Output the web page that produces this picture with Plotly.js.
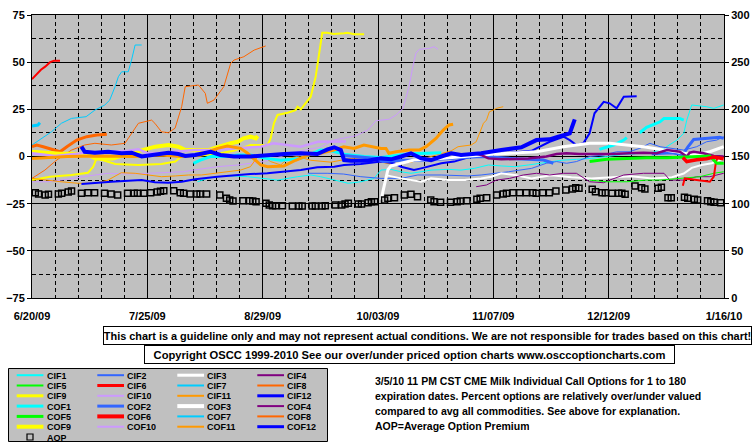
<!DOCTYPE html>
<html><head><meta charset="utf-8">
<script src="https://cdn.plot.ly/plotly-3.0.1.min.js"></script>
<style>html,body{margin:0;padding:0;background:#fff}#chart{width:755px;height:446px}</style>
</head><body><div id="chart"></div>
<script>
// ---- data: day offsets from 6/20/09 and values (percent, left axis); null = gap ----
const START_DATE = '2009-06-20';
const X_TICK_LABELS = ['6/20/09','7/25/09','8/29/09','10/03/09','11/07/09','12/12/09','1/16/10'];

const CIF1_days = [50.2,53.3,56.3,61.2,65.4,69.4,74.6,80.6,84.6,87.6,91.6,95.9,99.8,103.8,105.9,108.9,112.0,115.0,118.1,121.1,126.3,130.2,134.2,138.5,142.4,146.5,150.6,156.1,160.7,165.2,169.8,174.4,179.0,183.5,188.1,191.8,195.7,197.8,198.7,200.2,204.7,206.9,208.7,209.9];
const CIF1_vals = [-13.4,-11.6,-10.7,-10.3,-10.7,-11.6,-12.5,-10.7,-9.8,-10.7,-12.5,-14.2,-13.4,-11.6,-7.2,-6.8,-8.1,-8.9,-8.1,-7.2,-6.8,-7.2,-6.3,-4.5,-5,-5.4,-4.5,-3,-2,-1.5,-1,0,1,1.5,2,4.3,8.7,12.3,19.3,27.3,26.4,25.5,26.4,27.3];
const CIF2_days = [83.7,89.8,94.6,99.8,105.9,112.0,117.1,124.2,132.3,136.3,144.6,151.6,156.1,159.2,162.2,165.2,169.2,173.5,177.4,181.2,184.4,187.5,190.6,193.6,197.8,201.7,204.7,207.8,209.9];
const CIF2_vals = [-8.9,-8.9,-9.3,-10.7,-11.6,-11.6,-9.8,-9.8,-10.3,-9.8,-8.1,-6.3,-3.6,-2.7,-3.6,-2.7,0,0.8,2.5,2.5,4.3,7,5.2,4.3,3.4,5.2,7.8,8.7,10.5];
const CIF3_days = [107.7,112.0,118.1,121.1,126.3,131.2,136.3,139.4,142.4,146.5,151.6,157.6,163.7,169.8,175.9,181.9,188.1,194.2,197.8,200.2,203.2,206.3,209.9];
const CIF3_vals = [-10,-11.6,-13.4,-11.6,-12.5,-12.5,-11.6,-10.7,-8.9,-9.8,-11.6,-10,-11,-11.6,-11,-10.5,-11.6,-11,-9,-6,-4.5,-3.6,-1];
const CIF4_days = [134.8,137.9,140.9,144.9,149.1,153.1,157.1,161.3,165.2,169.2,173.5,175.3,179.6,185.6,191.8,193.6,197.8,201.7,205.7,209.9];
const CIF4_vals = [-16,-15.1,-12.5,-11.6,-9.8,-8.9,-9.8,-8.9,-8.9,-13.4,-13.9,-12.5,-9.8,-8.9,-8.9,-12.5,-12.5,-10.7,-10.7,-8.9];
const CIF5_days = [169.2,174.4,180.5,186.5,190.6,196.6,202.7,206.9,209.9];
const CIF5_vals = [-12.5,-13.4,-13.4,-12.5,-12.5,-11.6,-10.7,-8.9,-8.1];
const CIF6_days = [0,0.3,1.2,2.1,2.7,4.0,5.5,6.7,8.5,null,197.5,198.1,201.7,205.7,206.9,207.5,208.1];
const CIF6_vals = [41,41.5,43,45,46,47.6,50,50.8,50.8,null,-15.5,-11.6,-12.5,-13.4,-10.7,-3.6,0];
const CIF7_days = [0,2.8,5.9,8.9,12,16.4,19.1,22.1,23.6,25.2,26.2,27.2,29.2,30.2,31.3,33.3];
const CIF7_vals = [6.1,9.6,13.1,17.6,20.2,21.1,24.6,27.3,29.9,37.0,42.3,44.9,44.9,51.1,59.1,59.1];
const CIF8_days = [0,3.9,6.9,8.9,12.0,16.0,19.1,24.1,28.2,29.2,31.3,32.3,36.3,37.3,39.3,41.4,43.4,45.4,46.5,50.5,52.6,53.2,55.2,58.2,60.3,61.3,64.3,67.4,70.9];
const CIF8_vals = [-11.6,-7.2,-2.7,-0.1,3.4,6.1,7.0,6.1,7.0,9.6,15.0,17.6,19.3,17.6,13.1,12.6,15.0,26.4,37.0,37.9,33.5,28.2,29.9,37.0,49.4,51.1,52.9,56.4,58.6];
const CIF9_days = [0,5.5,12.0,17.0,18.6,19.6,25.3,32.3,39.3,43.5,45.3,51.1,56.3,61.2,66.3,71.5,72.4,73.4,74.5,77.6,80.0,80.6,81.6,84.6,86.1,87.1,88.1,89.6,91.6,94.7,95.7,97.8,100.8];
const CIF9_vals = [-12.5,-10.7,-9.8,-8.6,-5.4,-1,-4,-4.5,-4,-2.7,0,0.5,1.5,3,6.1,6.1,9.6,17.6,22,23.2,24.6,26.4,25,31.7,42.3,54.7,65.6,65.6,64.9,65.3,65.6,64.8,64.8];
const CIF10_days = [0,4.9,8.8,14.9,19.2,23.1,29.2,35.3,39.3,46.0,49.0,52.0,56.3,62.4,66.3,70.3,75.5,81.6,87.6,91.6,95.3,98.3,101.9,104.4,108.3,110.5,112.6,114.4,115.6,116.5,117.5,120.5,122.0,123.2];
const CIF10_vals = [-13.4,-13.4,-12.5,-10.7,-9.8,-8.9,-9.3,-8.9,-8.6,-8.1,-7.2,-6.3,-5.4,-4.5,-3.6,-2.7,0,3,5,8.7,10,11,14,19,19.7,22,25.5,37,47.6,54.7,56.8,57.3,58.2,56.8];
const CIF11_days = [0,4.0,8.8,14.0,19.2,23.1,27.1,31.3,35.3,39.3,43.5,47.5,51.4,55.1,59.3,63.3,66.3,68.5,70.3,72.4,75.5,77.6,80.6,84.6,90.7,96.8,102.9,108.9,115.0,121.1,127.2,129.3,133.3,134.8,135.7,137.0,137.9,138.8,140.0,140.9,143.0];
const CIF11_vals = [-11.6,-12.5,-13.4,-14.2,-14.2,-12.5,-8.6,-8.9,-9.8,-10.7,-10.3,-9.8,-9.8,-8.9,-8.1,-7.2,-5.4,0,0,-2.7,-4.5,-1,0,-2,-3,-1,-2,-4,-3,0,3,5.2,6.1,7.8,12.3,17.6,19.3,23.7,24.6,25.5,26.4];
const CIF12_days = [15.0,19.1,24.1,29.2,33.3,37.3,41.4,45.4,49.5,56.2,61.3,66.3,71.4,76.5,81.6,86.6,91.7,94.7,99.8,105.9,109.9,112.0,115.9,118.1,124.2,128.1,133.3,139.4,145.5,151.6,157.1,161.3,163.2,165.2,167.3,169.2,170.7,173.5,175.3,177.4,179.6,183.5];
const CIF12_vals = [-14.6,-14.2,-13.4,-12.8,-12.5,-13.7,-13.9,-13.4,-12.1,-10.7,-9.8,-9.3,-8.9,-8.1,-7.2,-5.7,-5.4,-4.5,-4,-2.7,-3.6,-5.4,-7.2,-6.3,-3.6,-2.7,0,1,2,3,7.8,10.5,8.7,6.1,7,12.3,22.9,29,28.2,25.5,31.7,32];

const COF1_days = [49.0,51.1,54.2,59.3,62.4,66.3,70.9,75.5,81.6,87.6,90.7,95.3,100.7,105.9,110.5,115.0,124.2,null,172.2,176.5,179.6,180.5,null,184.4,186.5,190.6,191.8,196.6,197.8];
const COF1_vals = [-3.6,-1.9,0,0,0.8,0.8,-1,-2,-1,3.4,3,1,0,-0.5,0.5,1.5,2,null,3.8,6.1,8.7,10,null,12.6,15.5,18.4,20.2,20.2,19.3];
const COF2_days = [94.6,97.7,104.4,106.5,112.0,118.1,127.2,136.3,145.5,151.6,155.2,158.2,null,188.1,194.2,197.5,199.0,200.8,204.7,208.7,209.9];
const COF2_vals = [0.5,0,-1,-2.7,-2,-2,-1,0,-1,-1.5,-1.9,-3.6,null,1.5,2,1,5,9,9.6,10.2,9.6];
const COF3_days = [105.9,106.8,107.4,108.0,108.9,112.0,115.9,121.1,127.2,133.3,139.4,144.9,153.1,161.3,169.2,175.3,185.6,191.8,195.7,200.2,203.2,205.7,209.9];
const COF3_vals = [-23,-16,-10.7,-7,-5,-3.6,-1.9,-1.5,-0.5,0.5,1.2,1.7,2.5,5.2,7,7,5.2,3.4,2.5,1,1.5,2.5,5.2];
const COF4_days = [134.2,136.3,138.5,142.4,146.5,150.6,156.1,159.2,162.2,166.1,171.3,176.5,181.2,185.6,189.6,192.7,196.6,198.7,199.6,200.8,203.8,206.9,209.9];
const COF4_vals = [1.7,0.8,-1,-1.5,-1.3,-1,0,1.3,1.7,1.3,1.3,1.3,1.7,2,1.7,3.4,2.5,0,2,2.5,1.7,0.3,0];
const COF5_days = [169.2,174.4,180.5,186.5,192.7,196.6,201.7,205.7,207.8,209.9];
const COF5_vals = [-2.7,-1.5,-1,-0.6,-0.6,-0.4,0,0.3,-3.6,-3.6];
const COF6_days = [197.5,198.7,201.7,204.7,206.9,209.9];
const COF6_vals = [-0.5,-2.7,-1.7,-1.2,-0.3,-1.2];
const COF7_days = [0,1.8,2.4];
const COF7_vals = [16.2,16.7,17.9];
const COF8_days = [0,1.4,3.4,6.5,8.5,10.6,13.6,16.6,19.7,22.7];
const COF8_vals = [5.2,6.1,5.2,3.4,2.5,5.2,8.7,10.5,11.4,11.8];
const COF9_days = [0,4.0,8.5,13.1,17.0,19.2,24.6,28.3,32.9,35.0,37.4,41.4,44.4,46.6,53.6,55.1,58.1,60.3,62.4,64.2,66.3,67.9,68.5];
const COF9_vals = [2.5,2,1.5,1.5,1,-1,-1,1,3,4.3,5.2,6.1,5.2,3.4,3.4,4.3,6.1,7,7.8,9.6,10.5,9.6,10.9];
const COF10_days = [0,7.0,14.9,23.1,29.2,32.3,35.3,39.3,43.5,49.6,53.6,61.2,69.4,73.3,81.6,86.8,93.7,95.3];
const COF10_vals = [1.7,0.3,1.7,2.5,3,3.8,1.7,2,2.5,3.4,3.4,4.3,5.2,7,5.2,7.8,7.8,8];
const COF11_days = [0,10.7,20.7,30.7,39.0,45.1,51.1,56.3,59.3,63.3,65.4,69.4,71.5,76.4,80.0,84.6,87.6,91.6,94.6,97.7,100.7,102.9,105.9,107.4,108.3,110.5,114.4,117.5,119.6,122.6,124.8,126.6,127.8];
const COF11_vals = [-1,0,0.3,0,0.8,0,0.8,4.3,5.6,4.3,1.7,-4.5,-5.4,-5,-2,1.3,1.7,3.4,5.2,4.3,6.1,5.2,4.3,4.3,1.7,2.5,3.4,3.4,5.2,9.6,14,16.7,17.1];
const COF12_days = [15.0,16.0,19.1,23.1,27.2,30.2,33.3,36.3,39.3,41.4,44.4,46.5,49.5,54.2,57.2,61.3,66.3,71.4,76.5,81.6,86.6,89.7,91.7,93.7,94.7,96.8,101.9,105.9,108.9,112.0,115.0,118.1,121.1,124.2,127.2,130.2,136.3,142.4,145.5,148.5,153.1,157.1,159.2,163.2,164.3,164.7];
const COF12_vals = [5.2,2.5,2,2.5,1.7,2,0,0.8,1.7,2,1.3,0.3,0.8,2.5,0.8,0,0,0.8,1.3,1.7,1.3,3.8,4.9,3.4,-1.9,-2.2,-2.2,-1,-1.5,0,1.7,-1,-1.9,0,1.7,0.8,1.7,3.4,4.3,4.9,8.7,9.1,10.2,12.3,17.6,19.7];

// Average Option Premium (right axis)
const AOP_days = [1,2,4,5,8,9,11,12,15,17,19,22,24,26,29,31,32,34,36,38,39,40,43,45,46,48,50,51,53,57,59,60,61,64,66,67,68,71,72,73,74,76,79,81,82,85,86,88,89,92,94,95,96,99,100,102,103,104,107,108,110,113,115,117,121,122,124,127,129,130,132,135,136,138,141,143,144,146,148,150,152,153,155,157,159,162,164,165,166,170,171,173,174,176,178,179,180,183,185,186,190,191,193,194,198,199,201,202,205,206,207,209];
const AOP_vals = [111.6,110.3,109.2,109.9,110.3,111.0,112.4,113.4,111.0,111.6,111.6,111.0,110.3,109.2,111.0,111.0,111.0,111.0,111.6,112.4,113.1,113.7,113.7,111.6,111.0,110.3,110.3,110.3,110.3,109.2,105.7,103.9,102.8,103.1,103.1,102.8,102.1,100.4,98.6,97.8,97.8,97.8,97.5,97.5,97.5,97.5,97.5,97.5,97.8,98.6,98.6,99.6,100.4,99.6,99.6,101.0,102.1,102.1,103.9,105.7,106.3,109.2,109.9,107.4,103.9,102.1,101.5,101.5,102.1,102.8,103.1,104.6,105.7,106.3,109.2,110.3,111.0,111.6,111.6,111.6,111.6,111.0,111.6,111.6,113.4,114.5,115.6,116.9,116.3,115.2,112.7,111.6,111.6,111.0,111.0,111.0,109.9,118.7,116.9,115.6,116.3,117.4,106.3,106.3,106.8,105.7,104.6,103.9,103.1,102.1,101.5,101.0];

const SERIES_NAMES = ['CIF1','CIF2','CIF3','CIF4','CIF5','CIF6','CIF7','CIF8','CIF9','CIF10','CIF11','CIF12','COF1','COF2','COF3','COF4','COF5','COF6','COF7','COF8','COF9','COF10','COF11','COF12'];
const SERIES_DATA = {
  CIF1:[CIF1_days,CIF1_vals],CIF2:[CIF2_days,CIF2_vals],CIF3:[CIF3_days,CIF3_vals],CIF4:[CIF4_days,CIF4_vals],
  CIF5:[CIF5_days,CIF5_vals],CIF6:[CIF6_days,CIF6_vals],CIF7:[CIF7_days,CIF7_vals],CIF8:[CIF8_days,CIF8_vals],
  CIF9:[CIF9_days,CIF9_vals],CIF10:[CIF10_days,CIF10_vals],CIF11:[CIF11_days,CIF11_vals],CIF12:[CIF12_days,CIF12_vals],
  COF1:[COF1_days,COF1_vals],COF2:[COF2_days,COF2_vals],COF3:[COF3_days,COF3_vals],COF4:[COF4_days,COF4_vals],
  COF5:[COF5_days,COF5_vals],COF6:[COF6_days,COF6_vals],COF7:[COF7_days,COF7_vals],COF8:[COF8_days,COF8_vals],
  COF9:[COF9_days,COF9_vals],COF10:[COF10_days,COF10_vals],COF11:[COF11_days,COF11_vals],COF12:[COF12_days,COF12_vals]
};

// ---- styles ----
const COLORS = ['#00FFFF','#3366FF','#FFFFFF','#800080','#00FF00','#FF0000','#00CCFF','#FF6600','#FFFF00','#CC99FF','#FF9900','#0000FF'];
const CIF_W = [1,1,2,1,1,2,1,1,2,1,1,2];
const COF_W = [3,3,3,2.5,3,3.5,3,3,4,2.5,3,4];
const LEG_CIF_W = [2,2,3,2,2,3,2,2,3,2,2,3];
const LEG_COF_W = [3,3,4,2,3,4,2,2,4,2,2,3];

const BASE = Date.UTC(2009,5,20);
function toDate(d){ if(d===null) return null; return new Date(BASE + Math.round(d*24)*3600000).toISOString().slice(0,19).replace('T',' '); }
const DAY = 86400000;

const traces = SERIES_NAMES.map((n,i)=>{
  const k = i%12, isCOF = i>=12;
  return {type:'scatter',mode:'lines',name:n,x:SERIES_DATA[n][0].map(toDate),y:SERIES_DATA[n][1],
    line:{color:COLORS[k],width:isCOF?COF_W[k]:CIF_W[k]},connectgaps:false,hoverinfo:'skip',showlegend:false};
});
traces.push({type:'scatter',mode:'markers',name:'AOP',x:AOP_days.map(toDate),y:AOP_vals,yaxis:'y2',
  marker:{symbol:'square-open',size:6,color:'#000',line:{width:1.5,color:'#000'}},hoverinfo:'skip',showlegend:false});

// ---- page geometry (paper) ----
const L=32,R=724,T=15,B=298;
const px=(x)=>(x-L)/(R-L), py=(y)=>(B-y)/(B-T);
const FONT='Liberation Sans, Arial, sans-serif';
const shapes=[], annotations=[];

annotations.push({xref:'paper',yref:'paper',x:px(427.5),y:py(335),xanchor:'center',yanchor:'middle',showarrow:false,
  text:'This chart is a guideline only and may not represent actual conditions. We are not responsible for trades based on this chart!',
  font:{family:FONT,size:10.9,weight:'bold',color:'#000'},bordercolor:'#000',borderwidth:1,borderpad:0,bgcolor:'#fff',width:647,height:17});
annotations.push({xref:'paper',yref:'paper',x:px(409.5),y:py(354),xanchor:'center',yanchor:'middle',showarrow:false,
  text:'Copyright OSCC 1999-2010 See our over/under priced option charts www.osccoptioncharts.com',
  font:{family:FONT,size:11.2,weight:'bold',color:'#000'},bordercolor:'#000',borderwidth:1,borderpad:0,bgcolor:'#fff',width:529,height:17});

const INFO_LINES=['3/5/10 11 PM CST CME Milk Individual Call Options for 1 to 180','expiration dates. Percent options are relatively over/under valued','compared to avg all commodities. See above for explanation.','AOP=Average Option Premium'];
INFO_LINES.forEach((t,i)=>annotations.push({xref:'paper',yref:'paper',x:px(373),y:py(380.5+15.2*i),xanchor:'left',yanchor:'middle',showarrow:false,
  text:t,font:{family:FONT,size:10.5,weight:'bold',color:'#000'},height:12}));

// legend box
const ROW0=375.2, ROWH=10.3, LEGFS=9;
shapes.push({type:'rect',xref:'paper',yref:'paper',x0:px(8.5),x1:px(327.5),y0:py(441.5),y1:py(368.5),fillcolor:'#C0C0C0',line:{color:'#000',width:1},layer:'below'});
const COLX=[16.7,97.3,177.3,257.3];
SERIES_NAMES.forEach((n,i)=>{
  const row=Math.floor(i/4), col=i%4, yy=ROW0+ROWH*row;
  const k=i%12, isCOF=i>=12;
  shapes.push({type:'line',xref:'paper',yref:'paper',x0:px(COLX[col]),x1:px(COLX[col]+26.7),y0:py(yy),y1:py(yy),
    line:{color:COLORS[k],width:isCOF?LEG_COF_W[k]:LEG_CIF_W[k]}});
  annotations.push({xref:'paper',yref:'paper',x:px(COLX[col]+29),y:py(yy),xanchor:'left',yanchor:'middle',showarrow:false,
    text:n,font:{family:FONT,size:LEGFS,weight:'bold',color:'#000'},height:9,borderpad:0});
});
{
  const yy=ROW0+ROWH*6;
  shapes.push({type:'rect',xref:'paper',yref:'paper',x0:px(27),x1:px(33),y0:py(yy+3),y1:py(yy-3),line:{color:'#000',width:1.2}});
  annotations.push({xref:'paper',yref:'paper',x:px(45.7),y:py(yy),xanchor:'left',yanchor:'middle',showarrow:false,
    text:'AOP',font:{family:FONT,size:LEGFS,weight:'bold',color:'#000'},height:9,borderpad:0});
}

const tickfont={family:FONT,size:11,weight:'bold',color:'#000'};
const layout={
  width:755,height:446,margin:{l:L,r:755-R,t:T,b:446-B,pad:0},
  paper_bgcolor:'#fff',plot_bgcolor:'#C0C0C0',showlegend:false,
  xaxis:{type:'date',range:[toDate(0),toDate(210)],tickmode:'array',
    tickvals:X_TICK_LABELS.map((t,i)=>toDate(35*i)),ticktext:X_TICK_LABELS,
    showgrid:true,gridcolor:'#000',gridwidth:1,showline:true,linecolor:'#000',linewidth:1,mirror:true,
    ticks:'',ticklabelstandoff:8,tickfont:tickfont,zeroline:false,fixedrange:true,
    minor:{tickmode:'linear',tick0:toDate(0),dtick:7*DAY,showgrid:true,gridcolor:'#000',gridwidth:1,griddash:'4px,3px',ticks:''}},
  yaxis:{range:[-75,75],tickmode:'linear',tick0:0,dtick:25,showgrid:true,gridcolor:'#000',gridwidth:1,
    showline:true,linecolor:'#000',linewidth:1,mirror:true,ticks:'outside',ticklen:4,tickcolor:'#000',
    tickfont:tickfont,zeroline:false,fixedrange:true,
    minor:{tickmode:'linear',tick0:0,dtick:12.5,showgrid:true,gridcolor:'#000',gridwidth:1,griddash:'4px,3px',ticks:''}},
  yaxis2:{overlaying:'y',side:'right',range:[0,300],tickmode:'linear',tick0:0,dtick:50,showgrid:false,
    ticks:'outside',ticklen:4,tickcolor:'#000',tickfont:tickfont,zeroline:false,showline:true,linecolor:'#000',fixedrange:true},
  shapes:shapes,annotations:annotations
};
Plotly.newPlot('chart',traces,layout,{staticPlot:true,displayModeBar:false});
</script></body></html>
